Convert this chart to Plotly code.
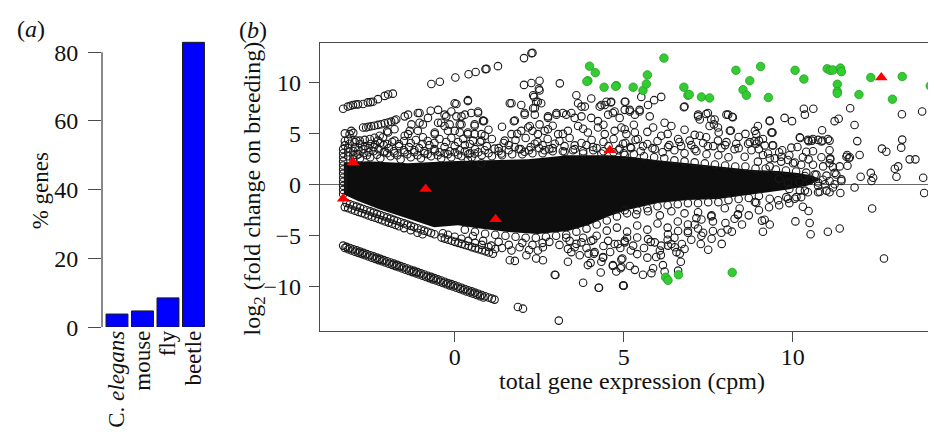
import plotly.graph_objects as go

# ---------------- panel (a) data ----------------
species = ["C. <i>elegans</i>", "mouse", "fly", "beetle"]
pct_genes = [3.8, 4.7, 8.5, 82.9]
bar_ticks = [0, 20, 40, 60, 80]

# ---------------- panel (b) data ----------------
x_ticks = [0, 5, 10]
y_ticks = [-10, -5, 0, 5, 10]

# outline of the saturated (solid black) part of the point cloud
core_x = [-3.28, -2.57, -1.38, -0.20, 0.99, 2.17, 3.35, 4.54, 5.13, 6.01, 6.90, 7.79, 8.82, 9.57,
          10.16, 10.60, 10.81, 10.45, 9.86, 9.27, 8.68, 7.79, 6.90, 6.01, 5.13, 4.54, 3.94, 3.35,
          2.46, 1.58, 0.69, 0.10, -0.61, -1.38, -2.27, -2.86, -3.28]
core_y = [2.20, 2.31, 2.12, 2.31, 2.41, 2.50, 2.89, 2.89, 2.79, 2.41, 2.12, 1.84, 1.46, 1.36,
          1.17, 0.89, 0.50, -0.07, -0.45, -0.73, -1.02, -1.40, -1.50, -1.78, -2.45, -3.11, -3.97, -4.54,
          -4.83, -4.64, -4.26, -3.97, -4.16, -3.30, -2.35, -1.59, -0.95]

# streaks of low-count genes
streak_top = [(-3.30, 7.46), (-3.16, 7.68), (-3.08, 7.76), (-3.01, 7.84), (-2.93, 7.88), (-2.86, 7.90),
              (-2.71, 7.93), (-2.57, 8.09), (-2.49, 8.12), (-2.42, 8.15), (-2.27, 8.41), (-2.07, 8.73),
              (-1.97, 8.86), (-1.83, 8.95)]
streak_mid = [(-2.71, 5.62), (-2.62, 5.62), (-2.55, 5.70), (-2.47, 5.75), (-2.38, 5.80), (-2.27, 5.88),
              (-2.17, 5.95), (-2.07, 6.05), (-1.97, 6.12), (-1.88, 6.20), (-1.78, 6.31), (-1.73, 6.41),
              (-3.06, 5.30), (-3.11, 4.98), (-3.25, 5.05), (-3.00, 5.10),
              (-3.25, 3.87), (-3.11, 4.03), (-2.96, 4.19), (-2.91, 4.34), (-2.81, 4.34), (-2.66, 4.41),
              (-2.51, 4.50), (-2.37, 4.62), (-2.22, 4.82), (-3.25, 4.30), (-3.15, 4.45)]
left_column = [(-3.30, 3.5), (-3.30, 3.1), (-3.30, 2.7), (-3.30, 2.3), (-3.30, 1.9), (-3.30, 1.5),
               (-3.30, 1.1), (-3.30, 0.7), (-3.30, 0.3), (-3.30, -0.1), (-3.30, -0.5), (-3.30, -0.9),
               (-3.15, 3.6), (-3.15, 3.2), (-3.15, 2.8), (-3.0, 3.3), (-3.0, 2.9), (-2.85, 3.4),
               (-2.85, 3.0), (-2.7, 3.5), (-2.7, 3.1), (-2.55, 3.6), (-2.55, 3.2), (-2.4, 3.7),
               (-2.4, 3.3), (-2.25, 3.5), (-2.1, 3.9), (-2.1, 3.2), (-1.95, 3.6), (-1.8, 3.3),
               (-1.65, 3.8), (-1.5, 3.4), (-1.35, 3.7), (-1.2, 3.2), (-1.05, 3.6), (-0.9, 3.3),
               (-0.75, 3.9), (-0.6, 3.5), (-0.45, 3.2), (-0.3, 3.7), (-0.15, 3.3), (0.0, 3.8),
               (0.15, 3.4), (0.3, 3.9), (0.45, 3.1)]
left_dense = [(-2.95, 3.7), (-2.8, 4.0), (-2.65, 3.8), (-2.5, 4.0), (-2.35, 3.95), (-2.2, 4.1), (-2.0, 4.0),
              (-1.85, 4.2), (-1.65, 4.0), (-1.5, 4.3), (-1.3, 4.1), (-1.15, 4.4), (-0.95, 4.0), (-0.8, 4.3),
              (-0.6, 4.1), (-0.45, 4.5), (-0.25, 4.2), (-0.1, 4.6), (0.1, 4.2), (0.25, 4.5), (0.45, 4.0),
              (-2.9, 2.9), (-2.6, 2.9), (-2.3, 2.95), (-2.0, 3.1), (-1.7, 2.9), (-1.4, 3.0), (-1.1, 2.9),
              (-0.8, 3.0), (-0.5, 2.9), (-0.2, 3.0), (0.1, 2.95), (0.4, 3.0), (0.7, 3.2), (1.0, 3.1),
              (1.3, 3.3), (1.6, 3.4), (1.9, 3.5), (2.2, 3.4), (2.5, 3.6), (2.8, 3.5)]
upper_fringe = [(-3.0, 2.5), (-2.8, 2.6), (-2.5, 2.7), (-2.2, 2.6), (-1.9, 2.8), (-1.6, 2.5), (-1.3, 2.7),
                (-1.0, 2.6), (-0.7, 2.8), (-0.4, 2.6), (-0.1, 2.7), (0.2, 2.8), (0.5, 2.7), (0.8, 2.9),
                (1.1, 2.8), (1.4, 2.9), (1.7, 3.0), (2.0, 3.0), (2.3, 3.1), (2.6, 3.1), (2.9, 3.3),
                (3.2, 3.3), (3.5, 3.4), (3.8, 3.3), (4.1, 3.4), (4.4, 3.3), (4.7, 3.2), (5.0, 3.1),
                (5.3, 3.0), (5.6, 2.8), (5.9, 2.7), (6.2, 2.6), (6.5, 2.4), (6.8, 2.3), (7.1, 2.2),
                (7.4, 2.1), (7.7, 2.0), (8.0, 1.9), (8.3, 1.8), (8.6, 1.8), (8.9, 1.6), (9.2, 1.6),
                (9.5, 1.5), (9.8, 1.4), (10.1, 1.3), (10.4, 1.2), (10.7, 1.0)]
upper_rows = [(0.6, 3.5), (0.95, 3.8), (1.3, 3.6), (1.6, 3.9), (1.95, 3.5), (2.25, 3.7), (2.6, 3.9),
              (2.9, 3.6), (3.25, 3.8), (3.55, 3.5), (3.9, 3.9), (4.2, 3.6), (4.55, 3.8), (4.85, 3.4),
              (5.2, 3.7), (5.5, 3.3), (5.85, 3.6), (6.15, 3.2), (6.5, 3.4), (6.8, 3.1), (7.15, 3.3),
              (7.45, 3.0), (7.8, 2.9), (8.1, 2.7),
              (0.75, 4.2), (1.1, 4.5), (1.45, 4.1), (1.8, 4.4), (2.1, 4.6), (2.45, 4.2), (2.75, 4.5),
              (3.1, 4.3), (3.4, 4.6), (3.75, 4.1), (4.05, 4.4), (4.4, 4.2), (4.7, 4.5), (5.05, 4.1),
              (5.35, 4.4), (5.7, 4.0), (6.0, 4.3), (6.35, 3.9), (6.65, 4.2), (7.0, 3.9), (7.35, 4.1),
              (7.65, 3.8), (8.0, 3.9), (8.4, 3.6),
              (1.0, 5.4), (1.4, 5.7), (1.85, 5.0), (2.3, 5.3), (2.9, 5.8), (3.2, 5.0), (3.8, 5.5),
              (4.4, 5.9), (5.3, 5.9), (5.7, 5.2), (6.3, 5.0), (6.8, 5.4), (7.1, 4.9), (8.4, 4.7),
              (8.6, 5.0), (9.0, 3.5), (9.6, 3.2), (9.9, 2.9), (10.3, 2.7), (10.6, 3.3)]
lower_fringe = [(0.3, -4.4), (0.6, -4.6), (0.9, -4.8), (1.2, -4.9), (1.5, -5.0), (1.8, -5.1), (2.1, -5.2),
                (2.4, -5.2), (2.7, -5.1), (3.0, -5.0), (3.3, -4.9), (3.6, -4.6), (3.9, -4.3), (4.2, -3.9),
                (4.5, -3.5), (4.8, -3.1), (5.1, -2.8), (5.4, -2.5), (5.7, -2.3), (6.0, -2.1), (6.3, -2.0),
                (6.6, -1.9), (6.9, -1.8), (7.2, -1.8), (7.5, -1.7), (7.8, -1.7), (8.1, -1.5), (8.4, -1.4),
                (8.7, -1.3), (9.0, -1.1)]
lower_rows = [(2.8, -5.6), (3.1, -5.9), (3.3, -5.2), (3.6, -5.8), (3.9, -6.2), (4.1, -5.4), (4.4, -6.0),
              (4.6, -6.6), (4.9, -6.2), (5.1, -5.2), (5.4, -6.8), (5.6, -6.2), (5.8, -5.6), (6.1, -6.9),
              (6.3, -5.4), (6.5, -5.2), (6.8, -6.3), (7.0, -5.4), (7.3, -5.0), (7.6, -5.3), (7.9, -5.8),
              (8.2, -4.6), (8.5, -3.9), (8.7, -3.0), (9.0, -2.5), (9.3, -2.2), (9.6, -2.0), (9.9, -1.8),
              (1.3, -5.6), (1.6, -5.9), (2.0, -5.7), (2.3, -5.9), (2.6, -5.7), (1.4, -6.2), (2.2, -6.4)]
upper_points = [(2.27, 12.91), (2.30, 12.95), (2.05, 12.44), (1.28, 11.65), (0.91, 11.36), (0.94, 11.38),
                (0.62, 11.08), (0.41, 10.86), (0.02, 10.53), (-0.44, 10.12), (-0.69, 9.90),
                (3.11, 9.96), (2.05, 9.81), (2.27, 10.0), (2.51, 10.22), (2.51, 9.27), (2.49, 9.43),
                (2.32, 8.79), (2.35, 8.63), (2.41, 8.15), (2.46, 8.15), (2.56, 8.0), (1.68, 8.0),
                (1.63, 8.0), (1.97, 7.84), (2.07, 7.05), (2.37, 7.52), (2.32, 7.52), (1.75, 6.25),
                (2.76, 6.57), (3.01, 7.05), (0.39, 8.22), (0.39, 8.31), (0.05, 7.93), (0.0, 8.0),
                (-0.10, 7.20), (-0.30, 6.89), (-0.49, 7.36), (-0.71, 7.27), (-1.04, 7.05), (-1.09, 7.05),
                (-0.79, 6.57), (-1.04, 6.10), (-1.48, 6.72), (-1.38, 6.89), (-1.28, 5.93), (0.05, 6.72),
                (0.20, 6.72), (0.69, 7.05), (0.69, 7.2), (0.15, 5.93), (0.59, 5.93), (0.84, 6.25),
                (0.84, 6.31), (0.87, 6.27), (-0.49, 6.10), (-0.30, 5.77), (-0.59, 5.14), (-0.20, 5.30),
                (0.15, 5.14), (0.39, 5.14), (0.59, 4.98), (0.89, 4.82), (-0.94, 4.67), (-1.48, 4.82),
                (-1.97, 5.14), (-2.0, 5.25), (-1.78, 5.46), (-0.94, 5.93), (-1.09, 5.30), (-0.59, 4.98),
                (-0.40, 6.10), (-0.25, 6.72), (-0.15, 5.93), (0.0, 5.30), (0.20, 5.93), (0.30, 6.89),
                (0.49, 7.05), (0.59, 5.77), (-2.27, 4.34), (-2.12, 4.67), (-1.78, 4.34), (-1.38, 4.98),
                (-1.33, 5.30), (0.39, 4.98), (0.79, 4.98), (0.54, 4.34), (0.79, 4.34), (0.59, 3.08),
                (0.89, 3.39), (0.39, 2.44), (0.79, 2.12), (-2.07, 3.3), (-1.78, 3.1), (-1.48, 3.2),
                (-1.19, 3.4), (-0.89, 3.1), (-0.59, 3.3), (-0.30, 3.1), (0.0, 3.2), (0.30, 3.3),
                (1.18, 3.55), (1.48, 4.34), (1.68, 4.98), (1.97, 5.30), (2.17, 5.62), (2.46, 4.98),
                (2.76, 5.46), (3.06, 4.98), (3.35, 5.30), (3.65, 5.77), (3.94, 5.14), (4.24, 5.62),
                (4.44, 4.98), (4.73, 5.30), (5.03, 5.46), (1.38, 3.08), (1.78, 3.71), (2.07, 3.24),
                (2.37, 4.03), (2.66, 3.39), (2.96, 4.03), (3.25, 3.24), (3.55, 3.87), (3.80, 3.08),
                (4.09, 3.71), (4.34, 3.08), (4.88, 3.55), (5.03, 2.92), (1.78, 6.31), (2.07, 6.89),
                (2.37, 6.89), (2.22, 5.77), (2.51, 5.93), (2.66, 5.30), (2.76, 6.72), (3.01, 6.89),
                (3.20, 7.05), (3.30, 6.89), (3.45, 7.05), (3.55, 6.57), (3.75, 6.72), (3.85, 7.68),
                (4.04, 6.57), (4.24, 6.25), (4.54, 6.89), (4.73, 7.2), (4.88, 6.57), (5.03, 7.36),
                (3.60, 8.79), (3.65, 8.0), (3.75, 7.68), (4.29, 7.68), (4.44, 7.84), (4.63, 8.15),
                (5.03, 8.15), (4.04, 8.47), (4.49, 8.15), (4.62, 8.09), (4.34, 7.84), (4.68, 7.05),
                (5.05, 8.15), (5.18, 7.2), (5.52, 8.63), (5.72, 7.84), (5.47, 7.2), (6.11, 8.63),
                (5.90, 8.31), (6.78, 7.62), (7.20, 6.72), (7.25, 6.41), (7.44, 6.95), (7.59, 6.41),
                (8.04, 6.89), (8.21, 6.67), (7.67, 5.93), (7.81, 5.14), (8.14, 5.30), (8.17, 5.33),
                (8.97, 5.77), (9.32, 6.25), (8.92, 4.98), (9.37, 5.14), (9.40, 5.14), (9.76, 6.57),
                (9.98, 6.25), (10.33, 7.46), (10.61, 7.46), (10.36, 6.89), (11.24, 6.25), (11.36, 6.48),
                (11.70, 7.52), (11.83, 5.87), (11.91, 4.29), (13.23, 6.92), (13.83, 7.20), (13.24, 4.44),
                (13.21, 3.65), (12.64, 3.55), (12.77, 3.24), (13.46, 2.50), (13.63, 2.50), (13.02, 1.58),
                (13.12, 1.81), (13.07, 0.79), (13.86, 0.70), (13.89, -0.80), (12.31, 1.17), (12.38, 0.70),
                (12.33, 0.38), (12.01, 0.79), (11.44, 0.53), (11.83, -0.26), (11.59, 2.76), (11.66, 2.60),
                (11.09, 3.39), (11.11, 2.60), (10.88, 4.34), (11.09, 4.34), (10.75, 4.41), (10.87, 5.36),
                (10.57, 4.34), (10.45, 4.41), (10.21, 4.67), (10.40, 3.24), (10.14, 3.71), (9.96, 3.65),
                (9.69, 3.39), (9.40, 3.87), (9.12, 4.50), (9.00, 4.34), (8.87, 4.29), (8.68, 4.03),
                (8.78, 3.39), (9.12, 2.92), (9.32, 2.60), (9.66, 2.76), (9.86, 2.44), (10.06, 2.19),
                (10.47, 2.50), (10.85, 2.70), (11.11, 2.50), (11.19, 1.74), (11.39, 1.81), (10.75, 0.22),
                (10.95, 0.06), (11.24, 0.06), (10.22, 4.60), (10.47, 4.29), (10.60, 4.50), (10.85, 4.25),
                (11.04, 4.50), (11.61, 2.92), (11.69, 2.70), (11.98, 2.92), (11.62, 1.87), (11.29, 1.01),
                (11.44, 0.38), (5.18, 7.36), (5.47, 7.36), (5.33, 6.89), (5.77, 6.72), (6.80, 7.68),
                (7.20, 6.89), (7.49, 7.05), (7.69, 6.41), (7.54, 5.77), (7.79, 5.62), (8.09, 6.89),
                (8.23, 6.63), (8.88, 5.30), (9.32, 6.31), (9.39, 5.14), (5.87, 5.62), (6.21, 6.10),
                (6.41, 5.77), (4.93, 5.62), (5.08, 4.98), (5.33, 5.14), (5.42, 4.50), (4.98, 4.03),
                (6.11, 4.82), (6.61, 4.50), (6.95, 4.34), (7.25, 4.82), (7.44, 4.67), (7.79, 4.34),
                (8.04, 4.19), (8.33, 4.03), (8.73, 4.19), (8.92, 4.03), (9.17, 3.87), (9.42, 3.87),
                (5.22, 3.6), (5.57, 3.8), (5.92, 3.5), (6.31, 3.7), (6.70, 3.8), (7.10, 3.5), (7.49, 3.8),
                (7.89, 3.6), (8.28, 3.5), (8.58, 2.76), (8.97, 2.28), (9.27, 3.07), (9.47, 2.60),
                (9.32, 1.81), (9.66, 2.28), (10.01, 2.12), (10.25, 1.97), (10.60, 1.97), (10.90, 1.81),
                (11.09, 2.12), (11.24, 1.17), (11.09, 0.38), (11.19, -0.26), (10.75, -0.10), (10.45, -0.73),
                (10.21, -0.57), (10.06, -1.37), (9.81, -1.21), (9.57, -1.52), (9.32, -1.37), (9.86, 0.22),
                (10.36, 0.86), (10.65, 1.01), (10.9, 0.5), (11.0, 0.9), (10.2, 0.3), (9.6, 0.6),
                (9.9, -0.4), (10.5, 0.4)]
lower_points = [(12.35, -2.32), (12.70, -7.24), (10.30, -2.16), (10.47, -2.57), (10.08, -3.59),
                (10.50, -3.75), (10.53, -4.86), (11.04, -4.61), (11.39, -4.29), (9.32, -3.90),
                (10.75, -0.73), (11.00, -0.57), (9.09, -3.52), (9.12, -4.61), (10.80, -0.67),
                (11.09, -0.73), (11.41, -0.80), (10.36, -0.57), (10.25, -1.21), (9.86, -1.37),
                (10.11, -1.21), (8.92, -1.75), (8.43, -2.32), (8.38, -2.95), (8.28, -3.33), (8.01, -3.75),
                (8.07, -4.38), (7.89, -4.70), (7.64, -3.59), (7.64, -4.54), (7.50, -6.38), (7.28, -5.81),
                (7.35, -4.70), (7.10, -3.90), (7.15, -3.27), (7.20, -4.29), (6.90, -4.54), (6.72, -5.81),
                (6.66, -6.76), (6.69, -7.56), (6.61, -8.42), (6.51, -6.13), (6.41, -5.81), (6.56, -6.61),
                (6.31, -5.97), (6.16, -7.88), (6.21, -8.51), (6.07, -6.45), (5.96, -7.09), (5.87, -8.19),
                (5.82, -8.67), (5.70, -7.15), (5.57, -8.83), (5.33, -8.35), (5.18, -7.97), (4.93, -7.34),
                (4.91, -8.19), (4.98, -9.88), (5.00, -9.90), (4.68, -7.97), (4.32, -8.61), (4.26, -10.10),
                (4.39, -7.15), (4.12, -6.76), (4.02, -7.66), (5.28, -5.97), (5.03, -5.65), (4.83, -5.81),
                (5.72, -5.33), (5.92, -5.65), (6.11, -5.97), (5.40, -5.17), (5.21, -6.45), (6.31, -4.86),
                (6.61, -4.54), (6.90, -4.70), (2.96, -8.83), (2.98, -8.85), (3.08, -13.33), (1.87, -12.0),
                (2.02, -12.16), (3.80, -9.62), (4.27, -10.10), (4.99, -9.88), (3.35, -7.56), (3.45, -6.61),
                (3.94, -7.88), (4.34, -7.56), (4.39, -7.08), (4.68, -7.88), (4.78, -8.51), (4.93, -8.04),
                (4.96, -7.24), (3.70, -6.92), (3.96, -6.76), (4.14, -6.61), (1.63, -7.40), (1.78, -7.47),
                (2.41, -7.24), (2.61, -7.40), (2.12, -6.92), (1.68, -6.45), (1.92, -6.13), (2.46, -6.45),
                (2.61, -6.13), (3.35, -6.29), (3.55, -6.13), (3.40, -5.50), (3.75, -5.65), (4.04, -5.50),
                (4.54, -5.50), (4.73, -5.81), (5.03, -5.50), (5.03, -2.5), (5.37, -2.9), (5.72, -2.6),
                (6.07, -3.0), (6.41, -2.6), (6.80, -2.8), (7.20, -2.7), (7.59, -3.1), (7.99, -2.3),
                (8.38, -2.9), (8.88, -1.69), (9.17, -3.43), (4.5, -4.5), (4.8, -4.2), (5.1, -4.6),
                (5.4, -4.0), (5.7, -4.4), (6.0, -3.8), (6.3, -4.2), (6.6, -3.6), (6.9, -3.9), (7.3, -3.4),
                (7.6, -3.0), (4.2, -5.0), (3.8, -5.2)]
streak_low1 = [(-3.20, -1.79), (-3.10, -1.91), (-3.00, -2.03), (-2.90, -2.14), (-2.80, -2.26), (-2.70, -2.38),
               (-2.60, -2.50), (-2.50, -2.61), (-2.40, -2.73), (-2.30, -2.85), (-2.20, -2.97), (-2.10, -3.08),
               (-2.00, -3.20), (-1.90, -3.32), (-1.80, -3.44), (-1.70, -3.56), (-1.60, -3.67), (-1.50, -3.79),
               (-1.40, -3.91), (-1.30, -4.03), (-1.20, -4.14), (-1.10, -4.26), (-1.00, -4.38), (-0.90, -4.50),
               (-0.80, -4.61), (-0.70, -4.73), (-0.60, -4.85),
               (-3.25, -2.19), (-3.15, -2.30), (-3.05, -2.42), (-2.95, -2.54), (-2.85, -2.66), (-2.75, -2.77),
               (-2.65, -2.89), (-2.55, -3.01), (-2.45, -3.13), (-2.35, -3.24), (-2.25, -3.36), (-2.15, -3.48),
               (-2.05, -3.60), (-1.95, -3.71), (-1.85, -3.83), (-1.75, -3.95), (-1.65, -4.07), (-1.50, -4.25),
               (-1.30, -4.45), (-1.10, -4.70), (-0.95, -4.85)]
streak_low2 = [(-0.39, -5.18), (-0.29, -5.28), (-0.19, -5.39), (-0.09, -5.49), (0.01, -5.60), (0.11, -5.70),
               (0.21, -5.80), (0.31, -5.91), (0.41, -6.01), (0.51, -6.12), (0.61, -6.22), (0.71, -6.32),
               (0.81, -6.43), (0.91, -6.53), (1.01, -6.64), (1.13, -6.76),
               (-0.35, -4.75), (-0.20, -4.90), (0.00, -5.10), (0.20, -5.30), (0.40, -5.50), (0.60, -5.70),
               (0.80, -5.90), (1.00, -6.10), (1.20, -6.30), (0.54, -5.02), (0.84, -5.50), (1.08, -5.97)]
streak_bottom = [(-3.30, -5.97), (-3.20, -6.09), (-3.10, -6.21), (-3.00, -6.32), (-2.90, -6.44), (-2.80, -6.56),
                 (-2.70, -6.68), (-2.60, -6.80), (-2.50, -6.92), (-2.40, -7.03), (-2.30, -7.15), (-2.20, -7.27),
                 (-2.10, -7.39), (-2.00, -7.51), (-1.90, -7.63), (-1.80, -7.74), (-1.70, -7.86), (-1.60, -7.98),
                 (-1.50, -8.10), (-1.40, -8.22), (-1.30, -8.34), (-1.20, -8.45), (-1.10, -8.57), (-1.00, -8.69),
                 (-0.90, -8.81), (-0.80, -8.93), (-0.70, -9.04), (-0.60, -9.16), (-0.50, -9.28), (-0.40, -9.40),
                 (-0.30, -9.52), (-0.20, -9.64), (-0.10, -9.75), (0.00, -9.87), (0.10, -9.99), (0.20, -10.11),
                 (0.30, -10.23), (0.40, -10.35), (0.50, -10.46), (0.60, -10.58), (0.70, -10.70), (0.80, -10.82),
                 (0.90, -10.94), (1.00, -11.06), (1.10, -11.17), (1.18, -11.27),
                 (-3.25, -6.20), (-3.15, -6.33), (-3.05, -6.45), (-2.95, -6.57), (-2.85, -6.68), (-2.75, -6.80),
                 (-2.65, -6.92), (-2.55, -7.04), (-2.45, -7.16), (-2.35, -7.27), (-2.25, -7.39), (-2.15, -7.51),
                 (-2.05, -7.63), (-1.95, -7.75), (-1.85, -7.86), (-1.75, -7.98), (-1.65, -8.10), (-1.55, -8.22),
                 (-1.45, -8.34), (-1.35, -8.46), (-1.25, -8.57), (-1.15, -8.69), (-1.05, -8.81), (-0.95, -8.93),
                 (-0.85, -9.05), (-0.75, -9.16), (-0.65, -9.28), (-0.55, -9.40), (-0.45, -9.52), (-0.35, -9.64),
                 (-0.25, -9.76), (-0.15, -9.87), (-0.05, -9.99), (0.05, -10.11), (0.15, -10.23), (0.25, -10.35),
                 (0.35, -10.47), (0.45, -10.58), (0.55, -10.70), (0.65, -10.82), (0.75, -10.94), (0.85, -11.06)]

# highlighted genes
green_x = [6.19, 3.99, 4.16, 3.94, 3.91, 4.42, 4.78, 4.76, 5.28, 5.57, 5.67, 5.70, 6.78, 6.90, 6.94, 7.30, 7.54,
           8.32, 8.73, 8.53, 8.63, 9.05, 9.28, 10.07, 10.33, 11.02, 11.11, 11.19, 11.41, 11.44, 11.32,
           11.32, 11.32, 11.96, 12.31, 13.24, 12.95, 14.07, 6.24, 6.31, 6.62, 8.21]
green_y = [12.44, 11.65, 11.01, 10.22, 10.15, 9.58, 9.74, 9.68, 9.58, 9.27, 9.90, 10.79, 9.58, 8.79, 8.86, 8.63,
           8.53, 11.24, 10.22, 9.33, 8.79, 11.62, 8.57, 11.24, 10.38, 11.39, 11.24, 11.27, 11.46, 11.11, 9.87,
           9.17, 8.98, 8.86, 10.53, 10.63, 8.41, 9.71, -9.08, -9.37, -8.83, -8.61]
red_x = [-3.01, -3.30, -0.86, 1.21, 4.59, 12.62]
red_y = [2.22, -1.37, -0.42, -3.37, 3.39, 10.53]

circle_groups = [streak_top, streak_mid, left_column, left_dense, upper_fringe, upper_rows, lower_fringe,
                 lower_rows, upper_points, lower_points, streak_low1, streak_low2, streak_bottom]
circ_x = [p[0] for g in circle_groups for p in g]
circ_y = [p[1] for g in circle_groups for p in g]

W, H = 936, 432
FONT = "Liberation Serif"
AX = "#4a4a4a"

fig = go.Figure()

# (a) bars
fig.add_trace(go.Bar(x=list(range(len(species))), y=pct_genes, width=0.86,
                     marker=dict(color="#0000ff", line=dict(color="#1a1a1a", width=1)),
                     xaxis="x", yaxis="y", hoverinfo="skip"))

# (b) solid core of the cloud
fig.add_trace(go.Scatter(x=core_x, y=core_y, mode="lines", fill="toself", fillcolor="#0d0d0d",
                         line=dict(width=0, color="#0d0d0d"), xaxis="x2", yaxis="y2", hoverinfo="skip"))
fig.add_trace(go.Scatter(x=circ_x, y=circ_y, mode="markers", xaxis="x2", yaxis="y2",
                         marker=dict(symbol="circle-open", size=7.5, color="#1a1a1a", line=dict(width=1.1)),
                         hoverinfo="skip"))
fig.add_trace(go.Scatter(x=green_x, y=green_y, mode="markers", xaxis="x2", yaxis="y2",
                         marker=dict(symbol="circle", size=8.5, color="#33cc33",
                                     line=dict(color="#22a022", width=0.8)), hoverinfo="skip"))
fig.add_trace(go.Scatter(x=red_x, y=red_y, mode="markers", xaxis="x2", yaxis="y2",
                         marker=dict(symbol="triangle-up", size=11, color="#ff0000",
                                     line=dict(width=0)), hoverinfo="skip"))

tickfont = dict(family=FONT, size=24, color="#111")

fig.update_layout(
    width=W, height=H, margin=dict(l=0, r=0, t=0, b=0),
    paper_bgcolor="white", plot_bgcolor="white", showlegend=False,
    font=dict(family=FONT, size=24, color="#111"),
    xaxis=dict(domain=[94 / W, 200 / W], range=[-0.588, 3.57], tickmode="array",
               tickvals=list(range(len(species))), ticktext=species, tickangle=-90,
               ticks="", showline=False, showgrid=False, zeroline=False,
               tickfont=dict(family=FONT, size=23, color="#111"),
               ticklabelstandoff=-2, fixedrange=True),
    yaxis=dict(domain=[1 - 329 / H, 1 - 31.5 / H], range=[0, 84], tickmode="array",
               tickvals=bar_ticks, ticks="outside", ticklen=13, tickcolor=AX, tickwidth=1.3,
               showline=False, showgrid=False, zeroline=False, tickfont=tickfont,
               ticklabelstandoff=5, fixedrange=True),
    xaxis2=dict(domain=[312 / W, 1.0], range=[-3.985, 14.476], anchor="y2", tickmode="array",
                tickvals=x_ticks, ticks="outside", ticklen=10, tickcolor=AX, tickwidth=1.3,
                showline=True, linecolor=AX, linewidth=1.3, mirror=True,
                showgrid=False, zeroline=False, tickfont=tickfont, ticklabelstandoff=-6),
    yaxis2=dict(domain=[1 - 333 / H, 1 - 36 / H], range=[-14.35, 13.93], anchor="x2", tickmode="array",
                tickvals=y_ticks, ticks="outside", ticklen=10, tickcolor=AX, tickwidth=1.3,
                showline=True, linecolor=AX, linewidth=1.3,
                showgrid=False, zeroline=True, zerolinecolor="#6a6a6a", zerolinewidth=1.2,
                tickfont=tickfont, ticklabelstandoff=3),
    shapes=[dict(type="line", xref="x domain", yref="y", x0=0, x1=0, y0=bar_ticks[0], y1=bar_ticks[-1],
                 line=dict(color=AX, width=1.3))],
    annotations=[
        dict(text="(<i>a</i>)", x=23 / W, y=1 - 22 / H, xref="paper", yref="paper", showarrow=False,
             xanchor="center", yanchor="middle", font=dict(family=FONT, size=24)),
        dict(text="(<i>b</i>)", x=245 / W, y=1 - 23 / H, xref="paper", yref="paper", showarrow=False,
             xanchor="center", yanchor="middle", font=dict(family=FONT, size=24)),
        dict(text="% genes", x=32 / W, y=1 - 189 / H, xref="paper", yref="paper", showarrow=False,
             textangle=-90, xanchor="center", yanchor="middle", font=dict(family=FONT, size=23)),
        dict(text="log<sub>2</sub> (fold change on breeding)", x=246 / W, y=1 - 186 / H, xref="paper",
             yref="paper", showarrow=False, textangle=-90, xanchor="center", yanchor="middle",
             font=dict(family=FONT, size=24)),
        dict(text="total gene expression (cpm)", x=624 / W, y=1 - 385 / H, xref="paper", yref="paper",
             showarrow=False, xanchor="center", yanchor="middle", font=dict(family=FONT, size=24)),
    ],
)

fig.write_html("out.html")
